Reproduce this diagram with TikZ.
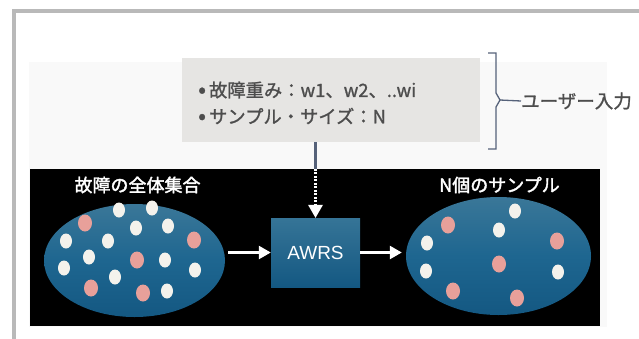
\documentclass[tikz,border=0pt]{standalone}
\usepackage{fontspec}
\setmainfont{Noto Sans CJK JP}
\newfontfamily\jpsemi[FakeBold=1.2]{Noto Sans CJK JP}
\newfontfamily\jptitle[FakeBold=2]{Noto Sans CJK JP}
\newfontfamily\latinsans{Liberation Sans}
\usetikzlibrary{arrows.meta,shapes.geometric}
\definecolor{framec}{HTML}{B9B9B9}
\definecolor{faintbg}{HTML}{F9F9F9}
\definecolor{boxgray}{HTML}{E6E5E3}
\definecolor{txtgray}{HTML}{4D4D4D}
\definecolor{slate}{HTML}{56627A}
\definecolor{blueTop}{HTML}{3A7798}
\definecolor{blueMid}{HTML}{1E6690}
\definecolor{blueBot}{HTML}{145882}
\definecolor{dotwhite}{HTML}{F4F2EC}
\definecolor{dotpink}{HTML}{E8A09A}
\newcommand{\bigbul}{{\fontsize{23}{21}\selectfont\raisebox{-0.5pt}{•}}}
\tikzset{
  inputbox/.style={fill=boxgray, draw=none, minimum width=298pt, minimum height=84pt, inner sep=0pt},
  inputtxt/.style={anchor=west, text=txtgray, font=\jpsemi\fontsize{18.3}{21}\selectfont, inner sep=0pt},
  titletxt/.style={text=white, font=\jptitle\fontsize{18}{21}\selectfont, inner sep=0pt},
  setellipse/.style={ellipse, draw=none, inner sep=0pt, top color=blueTop, bottom color=blueBot, middle color=blueMid},
  awrsbox/.style={draw=none, inner sep=0pt, minimum width=89pt, minimum height=69pt, top color=blueTop!85!blueMid, bottom color=blueBot,
     text=white, font=\latinsans\fontsize{19}{22}\selectfont},
  wdot/.style={ellipse, fill=dotwhite, draw=none, minimum width=12pt, minimum height=15pt, inner sep=0pt},
  pdot/.style={ellipse, fill=dotpink, draw=none, minimum width=14pt, minimum height=17pt, inner sep=0pt},
  whitearrow/.style={draw=white, line width=2.5pt, -{Triangle[length=12pt,width=13pt]}},
  bracketline/.style={draw=slate, line width=1.3pt},
}
\begin{document}
\begin{tikzpicture}[x=1pt,y=-1pt]
\useasboundingbox (0,0) rectangle (639,338);
% faint background and frame
\fill[faintbg] (29,62) rectangle (607,327);
\draw[framec, line width=4pt] (13.7,345) -- (13.7,11.3) -- (645,11.3);
% input box
\node[inputbox] (inp) at (331,100) {};
\node[inputtxt] (l1) at (198,90) {\bigbul\,故障重み：w1、w2、..wi};
\node[inputtxt] (l2) at (198,116) {\bigbul\,サンプル・サイズ：N};
% bracket
\coordinate (bt0) at (488,53);
\coordinate (bt) at (496,53);
\coordinate (bm1) at (496,93);
\coordinate (btip) at (500,100);
\coordinate (bm2) at (496,107);
\coordinate (bb) at (496,149);
\coordinate (bb0) at (488,149);
\node[anchor=west, text=txtgray, font=\jpsemi\fontsize{18.5}{21}\selectfont, inner sep=0pt] (user) at (521,101) {ユーザー入力};
\draw[bracketline] (bt0) -- (bt) -- (bm1) -- (btip) -- (bm2) -- (bb) -- (bb0);
\draw[bracketline] (btip) -- (user.west);
% black stage
\node[fill=black, draw=none, minimum width=570pt, minimum height=157pt, inner sep=0pt] (stage) at (315,247.5) {};
% titles
\node[titletxt] (tl) at (137.5,185) {故障の全体集合};
\node[titletxt] (tr) at (499.5,185) {N個のサンプル};
% sets
\node[setellipse, minimum width=181pt, minimum height=113pt] (setL) at (134.5,260.5) {};
\node[setellipse, minimum width=185pt, minimum height=118pt] (setR) at (498.5,256) {};
% AWRS
\node[awrsbox] (awrs) at (315.5,252.5) {AWRS};
% left dots
\node[wdot] (a1) at (119,210) {};
\node[wdot] (a2) at (152,208) {};
\node[wdot] (a3) at (136,228) {};
\node[wdot] (a4) at (168,226) {};
\node[wdot] (a5) at (66,241) {};
\node[wdot] (a6) at (108,241) {};
\node[wdot] (a7) at (89,257) {};
\node[wdot] (a8) at (165,260) {};
\node[wdot] (a9) at (64,268) {};
\node[wdot] (a10) at (115,277) {};
\node[wdot] (a11) at (195,270) {};
\node[wdot] (a12) at (167,291) {};
\node[pdot] (p1) at (85,223) {};
\node[pdot] (p2) at (194,240) {};
\node[pdot] (p3) at (137,260) {};
\node[pdot] (p4) at (91,288) {};
\node[pdot] (p5) at (143,293) {};
% right dots
\node[wdot] (b1) at (515,211) {};
\node[wdot] (b2) at (499,230) {};
\node[wdot] (b3) at (427,243) {};
\node[wdot] (b4) at (426,271) {};
\node[wdot] (b5) at (558,272) {};
\node[pdot] (q1) at (448,225) {};
\node[pdot] (q2) at (557,241) {};
\node[pdot] (q3) at (499,264) {};
\node[pdot] (q4) at (453,291) {};
\node[pdot] (q5) at (517,298) {};
% connectors
\coordinate (dropTop) at (awrs.north |- inp.south);
\coordinate (dropMid) at (awrs.north |- stage.north);
\draw[draw=slate, line width=2.5pt] (dropTop) -- (dropMid);
\draw[draw=white, line width=2.5pt, dash pattern=on 2pt off 1.5pt] (dropMid) -- ([yshift=12pt]awrs.north);
\fill[white] (awrs.north) -- ++(-7.5,-13) -- ++(15,0) -- cycle;
\draw[whitearrow, shorten <=3pt] (awrs.west -| setL.east) -- (awrs.west);
\draw[whitearrow, shorten >=4pt] (awrs.east) -- (awrs.east -| setR.west);
\end{tikzpicture}
\end{document}
